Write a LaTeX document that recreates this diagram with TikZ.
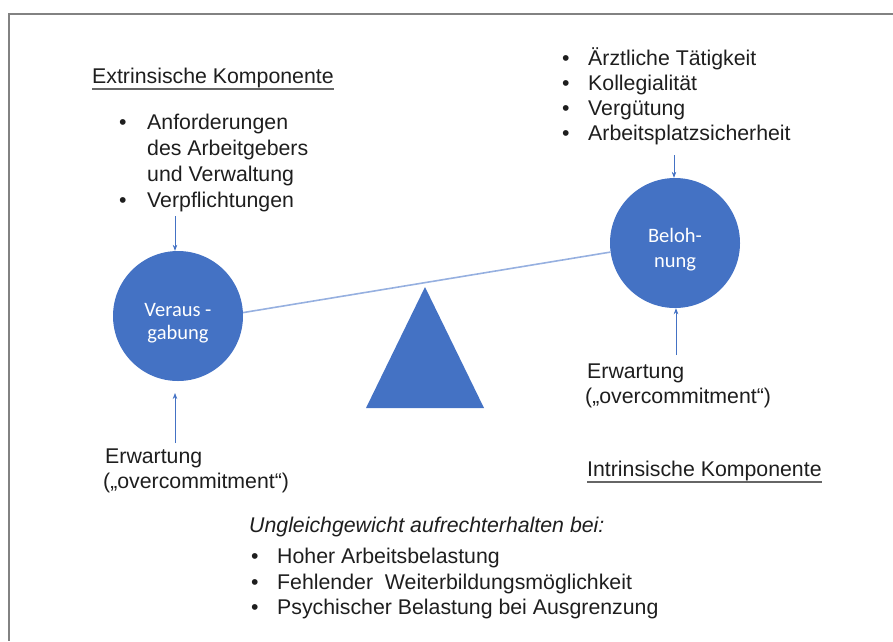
\documentclass[tikz,border=0pt]{standalone}
\usepackage{fontspec}
\setmainfont{Liberation Sans}
\newfontfamily\calfont{Carlito}
\usetikzlibrary{arrows.meta}
\definecolor{obl}{RGB}{68,114,196}
\definecolor{beamc}{RGB}{150,176,224}
\definecolor{txt}{RGB}{30,30,30}
\definecolor{framec}{RGB}{130,130,130}
\begin{document}
\begin{tikzpicture}[x=1pt,y=-1pt,
 lbl/.style={anchor=base west, inner sep=0pt, font=\fontsize{21.3}{25}\selectfont, text=txt},
 bul/.style={anchor=base west, inner sep=0pt, font=\fontsize{21.3}{25}\selectfont, text=txt},
 ball/.style={circle, fill=obl, minimum size=130pt, inner sep=0pt},
 balltext/.style={anchor=base, inner sep=0pt, text=white, font=\calfont\fontsize{20.5}{24}\selectfont},
 arr/.style={draw=obl, line width=0.7pt, -{Stealth[length=6pt,width=4.5pt]}},
 uline/.style={draw=black!60, line width=2.2pt},
 frame/.style={draw=framec, line width=2pt},
 beamline/.style={draw=beamc, line width=1.6pt}
]
\useasboundingbox (0,0) rectangle (893,641);
\draw[frame] (893,14) -- (9,14) -- (9,641);

% left side
\node[lbl] (ext) at (92,83) {Extrinsische Komponente};
\draw[uline] ([yshift=-6pt]ext.base west) -- ([yshift=-6pt]ext.base east);
\node[bul] (lb1) at (119,129) {•};
\node[lbl] (l1) at (147,129) {Anforderungen};
\node[lbl] (l2) at (147,155) {des Arbeitgebers};
\node[lbl] (l3) at (147,181) {und Verwaltung};
\node[bul] (lb2) at (119,207) {•};
\node[lbl] (l4) at (147,207) {Verpflichtungen};

\node[ball] (V) at (178,316) {};
\node[balltext] (vt1) at (178,316) {Veraus -};
\node[balltext] (vt2) at (178,339.5) {gabung};
\coordinate (a1s) at (175,216);
\draw[arr] (a1s) -- (a1s |- V.north);

\node[lbl] (e1) at (105,463) {Erwartung};
\node[lbl] (e2) at (103,488) {(„overcommitment“)};
\coordinate (a2s) at (175,443);
\coordinate (a2e) at (175,393);
\draw[arr] (a2s) -- (a2e);

% right side
\node[bul] (rb1) at (562,65) {•};
\node[lbl] (r1) at (588,65) {Ärztliche Tätigkeit};
\node[bul] (rb2) at (562,90) {•};
\node[lbl] (r2) at (588,90) {Kollegialität};
\node[bul] (rb3) at (562,115) {•};
\node[lbl] (r3) at (588,115) {Vergütung};
\node[bul] (rb4) at (562,140) {•};
\node[lbl] (r4) at (588,140) {Arbeitsplatzsicherheit};

\node[ball] (B) at (675,243) {};
\node[balltext] (bt1) at (675,242) {Beloh-};
\node[balltext] (bt2) at (675,267) {nung};
\coordinate (a3s) at (674,155);
\draw[arr] (a3s) -- (a3s |- B.north);

\node[lbl] (e3) at (587,378) {Erwartung};
\node[lbl] (e4) at (585,403) {(„overcommitment“)};
\coordinate (a4s) at (676,355);
\draw[arr] (a4s) -- (a4s |- B.south);

\node[lbl] (int) at (587,476) {Intrinsische Komponente};
\draw[uline] ([yshift=-6pt]int.base west) -- ([yshift=-6pt]int.base east);

% beam and fulcrum
\draw[beamline] (V.3) -- (B.188);
\fill[obl] (425,287) coordinate (apex) -- (484,408) -- (366,408) -- cycle;

% bottom
\node[lbl, font=\itshape\fontsize{21.3}{25}\selectfont] (ung) at (249,532) {Ungleichgewicht aufrechterhalten bei:};
\node[bul] (bb1) at (251,563) {•};
\node[lbl] (b1) at (277,563) {Hoher Arbeitsbelastung};
\node[bul] (bb2) at (251,589) {•};
\node[lbl] (b2) at (277,589) {Fehlender\ \ Weiterbildungsmöglichkeit};
\node[bul] (bb3) at (251,614) {•};
\node[lbl] (b3) at (277,614) {Psychischer Belastung bei Ausgrenzung};
\end{tikzpicture}
\end{document}
